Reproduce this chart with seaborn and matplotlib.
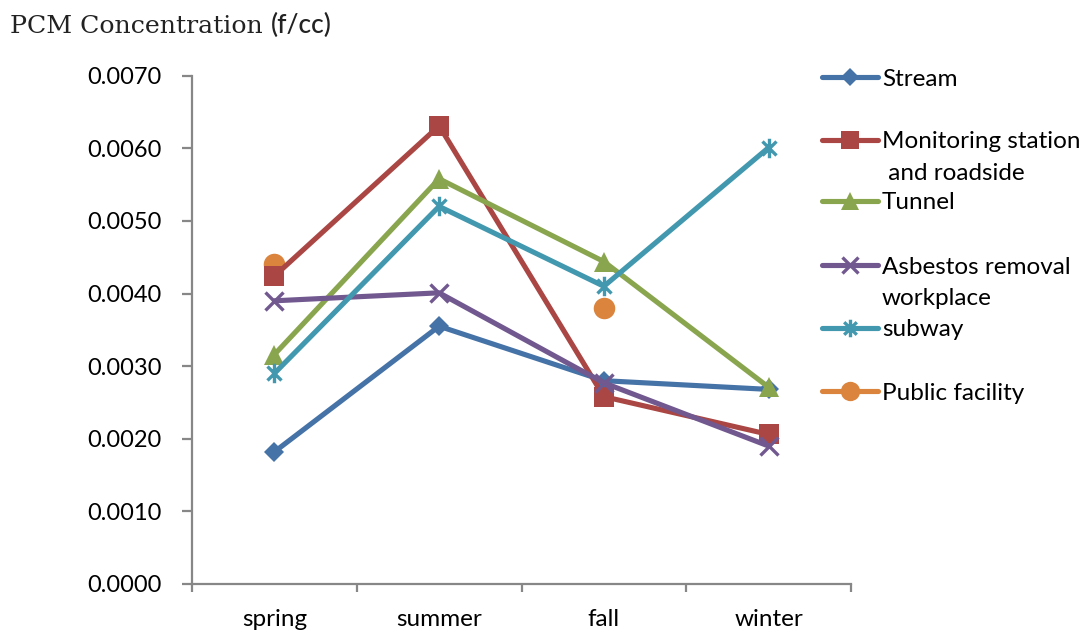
import numpy as np
import pandas as pd
import matplotlib
matplotlib.use("Agg")
import matplotlib.pyplot as plt
import seaborn as sns
from matplotlib.path import Path
from matplotlib.lines import Line2D
from matplotlib.ticker import FixedLocator, FixedFormatter, NullFormatter

# ---- data: PCM fibre concentration (f/cc) by season ----
seasons = ["spring", "summer", "fall", "winter"]
stream = [0.00182, 0.00355, 0.00280, 0.00268]
monitoring = [0.00424, 0.00631, 0.00258, 0.00206]
tunnel = [0.00316, 0.00558, 0.00444, 0.00271]
asbestos = [0.00390, 0.00401, 0.00277, 0.00190]
subway = [0.00290, 0.00520, 0.00410, 0.00601]
public = [0.00440, np.nan, 0.00380, np.nan]

series_names = ["Stream", "Monitoring station\n and roadside", "Tunnel",
                "Asbestos removal\nworkplace", "subway", "Public facility"]
y_ticks = [0.0, 0.001, 0.002, 0.003, 0.004, 0.005, 0.006, 0.007]
title_main = "PCM Concentration"
title_unit = "(f/cc)"

colors = ["#4572A7", "#AA4643", "#89A54E", "#71588F", "#4198AF", "#DB843D"]

# asterisk marker: vertical bar crossed by an X
star_path = Path(
    [(0, -1), (0, 1), (-0.72, -0.72), (0.72, 0.72), (-0.72, 0.72), (0.72, -0.72)],
    [Path.MOVETO, Path.LINETO, Path.MOVETO, Path.LINETO, Path.MOVETO, Path.LINETO],
)

styles = [
    dict(marker="D", markersize=10.5, mew=0),
    dict(marker="s", markersize=15, mew=0),
    dict(marker="^", markersize=15, mew=0),
    dict(marker="x", markersize=13, mew=2.4),
    dict(marker=star_path, markersize=14, mew=2.4),
    dict(marker="o", markersize=15.5, mew=0),
]

sns.set_theme(style="white")
plt.rcParams["font.family"] = ["Lato", "DejaVu Sans"]

W, H = 1091, 632
LW = 3.7
fig = plt.figure(figsize=(W / 100, H / 100), dpi=100)
ax = fig.add_axes([192 / W, 1 - 584 / H, (851 - 192) / W, (584 - 75.7) / H])

df = pd.DataFrame({"season": seasons, "Stream": stream, "Monitoring": monitoring,
                   "Tunnel": tunnel, "Asbestos": asbestos, "subway": subway,
                   "Public": public})
cols = ["Stream", "Monitoring", "Tunnel", "Asbestos", "subway"]

for col, c, st in zip(cols, colors[:5], styles[:5]):
    sns.lineplot(data=df, x="season", y=col, ax=ax, color=c, lw=LW,
                 marker=st["marker"], markersize=st["markersize"],
                 mew=st["mew"], mec=c, mfc=c, sort=False, legend=False)

# public facility has gaps, so it is drawn as points only
sns.scatterplot(data=df, x="season", y="Public", ax=ax, color=colors[5],
                s=styles[5]["markersize"] ** 2, linewidth=0, legend=False)

ax.set_xlim(-0.5, 3.5)
ax.set_ylim(0, 0.007)
ax.set_xlabel("")
ax.set_ylabel("")

axis_grey = "#878787"
for side in ["top", "right"]:
    ax.spines[side].set_visible(False)
for side in ["left", "bottom"]:
    ax.spines[side].set_color(axis_grey)
    ax.spines[side].set_linewidth(1.6)

ax.yaxis.set_major_locator(FixedLocator(y_ticks))
ax.yaxis.set_major_formatter(FixedFormatter([f"{v:.4f}" for v in y_ticks]))
ax.tick_params(axis="y", which="major", direction="out", length=7, width=1.6,
               color=axis_grey, pad=15, labelsize=17, labelcolor="black", left=True)

ax.xaxis.set_major_locator(FixedLocator([-0.5, 0.5, 1.5, 2.5, 3.5]))
ax.xaxis.set_major_formatter(NullFormatter())
ax.xaxis.set_minor_locator(FixedLocator([0, 1, 2, 3]))
ax.xaxis.set_minor_formatter(FixedFormatter(seasons))
ax.tick_params(axis="x", which="major", direction="out", length=6, width=1.6,
               color=axis_grey, bottom=True)
ax.tick_params(axis="x", which="minor", length=0, pad=18, labelsize=17.5,
               labelcolor="black", bottom=True)
ax.grid(False)

# title in two fonts
t1 = fig.text(10 / W, 1 - 33 / H, title_main, family="DejaVu Serif",
              fontsize=18.2, color="#222222", va="baseline", ha="left")
fig.canvas.draw()
bb = t1.get_window_extent(fig.canvas.get_renderer())
fig.text((bb.x1 + 8) / W, 1 - 33 / H, title_unit, family=["Lato", "DejaVu Sans"],
         fontsize=19, weight="medium", color="#222222", va="baseline", ha="left")

# legend, one block per series
leg_y = [77, 140, 201, 265, 328, 391]
line_gap = 31
for name, c, st, y in zip(series_names, colors, styles, leg_y):
    yf = 1 - y / H
    fig.add_artist(Line2D([822 / W, 878 / W], [yf, yf], transform=fig.transFigure,
                          color=c, lw=LW, solid_capstyle="round"))
    fig.add_artist(Line2D([850 / W], [yf], transform=fig.transFigure, color=c,
                          marker=st["marker"], markersize=st["markersize"] * 0.9,
                          mew=st["mew"], mec=c, mfc=c, lw=0))
    for k, part in enumerate(name.split("\n")):
        fig.text(882 / W, 1 - (y + k * line_gap) / H, part, fontsize=17.5,
                 color="black", va="center_baseline", ha="left")

fig.savefig("out.png", dpi=100)
